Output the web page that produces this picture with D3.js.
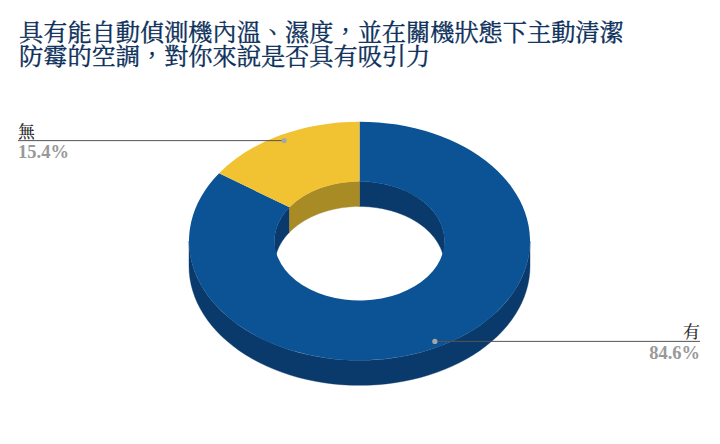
<!DOCTYPE html>
<html>
<head>
<meta charset="utf-8">
<script src="https://cdnjs.cloudflare.com/ajax/libs/d3/7.8.5/d3.min.js"></script>
<style>
  html, body { margin: 0; padding: 0; background: #fff; }
  svg { display: block; }
</style>
</head>
<body>
<div id="chart"></div>
<script>
const titleLines = ["具有能自動偵測機內溫、濕度\uFF0C並在關機狀態下主動清潔", "防霉的空調\uFF0C對你來說是否具有吸引力"];
const categories = ["有", "無"];
const values = [84.6, 15.4];
const percentLabels = ["84.6%", "15.4%"];
const topColors = ["#0b5394", "#f1c232"];
const wallColors = ["#0a3a6c", "#a98b25"];

(function autoexecute() {
  const width = 720, height = 444;
  const cx = 359.5, cy = 241;
  const outerR = 170.5, innerR = 85, tilt = 0.7, depth = 25, labelR = 162;
  const serif = "'Noto Serif CJK TC', 'Noto Sans CJK TC', serif";
  const numFont = "'Liberation Serif', serif";

  const svg = d3.select("#chart")
    .append("svg")
      .attr("width", width)
      .attr("height", height);

  // title
  svg.append("g")
    .selectAll("text")
    .data(titleLines)
    .join("text")
      .attr("x", 19)
      .attr("y", (d, i) => 41 + i * 24)
      .attr("font-family", serif)
      .attr("font-size", 24.2)
      .attr("fill", "#0c2f5a")
      .attr("stroke", "#0c2f5a")
      .attr("stroke-width", 0.35)
      .text(d => d);

  const slices = d3.pie().sort(null)(values);

  // angle 0 is straight up and it goes clockwise, same as d3.arc
  const project = (a, r, dz) => [cx + r * Math.sin(a), cy - r * tilt * Math.cos(a) + dz];

  const wallPath = function(a0, a1, r) {
    if (a1 <= a0) return null;
    const steps = d3.range(0, 61).map(i => a0 + (a1 - a0) * i / 60);
    const top = steps.map(a => project(a, r, 0));
    const bottom = steps.slice().reverse().map(a => project(a, r, depth));
    return d3.line()(top.concat(bottom)) + "Z";
  };

  const walls = svg.append("g");
  slices.forEach(function(s, i) {
    // outer wall shows on the front half, inner wall on the back half
    const outer = wallPath(Math.max(s.startAngle, Math.PI / 2), Math.min(s.endAngle, Math.PI * 1.5), outerR);
    const innerA = wallPath(s.startAngle, Math.min(s.endAngle, Math.PI / 2), innerR);
    const innerB = wallPath(Math.max(s.startAngle, Math.PI * 1.5), s.endAngle, innerR);
    [outer, innerA, innerB].filter(d => d).forEach(function(d) {
      walls.append("path")
        .attr("d", d)
        .attr("fill", wallColors[i])
        .attr("stroke", wallColors[i])
        .attr("stroke-width", 0.4);
    });
  });

  // top face
  const arc = d3.arc().innerRadius(innerR).outerRadius(outerR);
  svg.append("g")
    .attr("transform", "translate(" + cx + "," + cy + ") scale(1," + tilt + ")")
    .selectAll("path")
    .data(slices)
    .join("path")
      .attr("d", arc)
      .attr("fill", (d, i) => topColors[i]);

  // leader lines and labels
  const labels = svg.append("g");
  slices.forEach(function(s, i) {
    const p = project((s.startAngle + s.endAngle) / 2, labelR, 0);
    const leftSide = p[0] < cx;
    const endX = leftSide ? 18 : 700;
    labels.append("line")
      .attr("x1", p[0]).attr("y1", p[1])
      .attr("x2", endX).attr("y2", p[1])
      .attr("stroke", "#555")
      .attr("stroke-width", 1);
    labels.append("circle")
      .attr("cx", p[0]).attr("cy", p[1])
      .attr("r", 2.6)
      .attr("fill", "#a6a6a6");
    labels.append("text")
      .attr("x", endX).attr("y", p[1] - 3)
      .attr("text-anchor", leftSide ? "start" : "end")
      .attr("font-family", serif)
      .attr("font-size", 17)
      .attr("fill", "#222")
      .attr("stroke", "#222")
      .attr("stroke-width", 0.2)
      .text(categories[i]);
    labels.append("text")
      .attr("x", endX).attr("y", p[1] + 17.5)
      .attr("text-anchor", leftSide ? "start" : "end")
      .attr("font-family", numFont)
      .attr("font-weight", "bold")
      .attr("font-size", 18.5)
      .attr("fill", "#999")
      .text(percentLabels[i]);
  });
})();
</script>
</body>
</html>
